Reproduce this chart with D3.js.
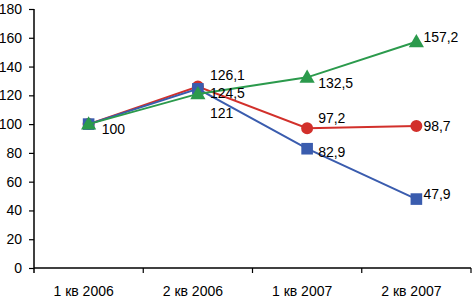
<!DOCTYPE html>
<html>
<head>
<meta charset="utf-8">
<script src="https://cdn.jsdelivr.net/npm/d3@7"></script>
<style>
  body { margin: 0; background: #fff; }
  svg { display: block; font-family: "Liberation Sans", Arial, sans-serif; }
</style>
</head>
<body>
<svg width="472" height="304"></svg>
<script>
const categories = ['1 кв 2006', '2 кв 2006', '1 кв 2007', '2 кв 2007'];
const redValues = [100, 126.1, 97.2, 98.7];
const blueValues = [100, 124.5, 82.9, 47.9];
const greenValues = [100, 121, 132.5, 157.2];
const yTicks = [0, 20, 40, 60, 80, 100, 120, 140, 160, 180];

// label offsets from the point [dx, dy]; null = no label
const redLabelPos = [null, [12, -11], [11, -10], [7, 0]];
const blueLabelPos = [null, [12, 4], [11, 3], [7, -5]];
const greenLabelPos = [[13, 5], [12, 19], [11, 6], [7, -5]];

const series = [
    { values: redValues, color: '#d2302b', shape: 'circle', labels: redLabelPos },
    { values: blueValues, color: '#3a5cae', shape: 'square', labels: blueLabelPos },
    { values: greenValues, color: '#2b9a4c', shape: 'triangle', labels: greenLabelPos }
];

const plotLeft = 34, plotRight = 471, plotTop = 9, plotBottom = 268;

const svg = d3.select('svg');

const xScale = d3.scaleBand()
    .domain(categories)
    .range([plotLeft, plotRight]);

const yScale = d3.scaleLinear()
    .domain([0, 180])
    .range([plotBottom, plotTop]);

// y axis
const yAxis = svg.append('g')
    .attr('transform', `translate(${plotLeft}, 0)`)
    .call(d3.axisLeft(yScale).tickValues(yTicks).tickSize(5).tickPadding(7));
yAxis.select('.domain').attr('d', `M0,${plotTop}V${plotBottom + 5}`).attr('stroke', '#000').attr('stroke-width', 1.5);
yAxis.selectAll('.tick line').attr('stroke', '#000').attr('stroke-width', 1.2);
yAxis.selectAll('.tick text').attr('font-size', 14).attr('fill', '#000')
    .attr('font-family', '"Liberation Sans", Arial, sans-serif');

// x axis
const xAxis = svg.append('g')
    .attr('transform', `translate(0, ${plotBottom})`);
xAxis.append('line')
    .attr('x1', plotLeft).attr('x2', plotRight)
    .attr('stroke', '#000').attr('stroke-width', 1.5);
xAxis.selectAll('line.tk')
    .data(categories)
    .enter().append('line')
    .attr('class', 'tk')
    .attr('x1', d => xScale(d) + xScale.bandwidth())
    .attr('x2', d => xScale(d) + xScale.bandwidth())
    .attr('y1', 0).attr('y2', 5)
    .attr('stroke', '#000').attr('stroke-width', 1.2);
xAxis.selectAll('text')
    .data(categories)
    .enter().append('text')
    .attr('x', d => xScale(d) + xScale.bandwidth() / 2 - 5)
    .attr('y', 28)
    .attr('text-anchor', 'middle')
    .attr('font-size', 14)
    .attr('fill', '#000')
    .text(d => d);

const cx = (i) => xScale(categories[i]) + xScale.bandwidth() / 2;

const line = d3.line()
    .x((d, i) => cx(i))
    .y(d => yScale(d));

const fmt = v => String(v).replace('.', ',');

series.forEach(s => {
    const g = svg.append('g');
    g.append('path')
        .datum(s.values)
        .attr('d', line)
        .attr('fill', 'none')
        .attr('stroke', s.color)
        .attr('stroke-width', 2);

    const sym = s.shape === 'circle' ? d3.symbolCircle
        : s.shape === 'square' ? d3.symbolSquare : d3.symbolTriangle;
    const size = s.shape === 'circle' ? 113 : s.shape === 'square' ? 135 : 100;

    g.selectAll('path.mk')
        .data(s.values)
        .enter().append('path')
        .attr('class', 'mk')
        .attr('d', d3.symbol().type(sym).size(size))
        .attr('transform', (d, i) => `translate(${cx(i)}, ${yScale(d) + (s.shape === 'triangle' ? 1 : 0)})`)
        .attr('fill', s.color);
});

// value labels on top
series.forEach(s => {
    svg.append('g').selectAll('text')
        .data(s.values.map((v, i) => ({ v, i, off: s.labels[i] })).filter(d => d.off))
        .enter().append('text')
        .attr('x', d => cx(d.i) + d.off[0])
        .attr('y', d => yScale(d.v) + d.off[1])
        .attr('dy', '0.35em')
        .attr('font-size', 14)
        .attr('fill', '#000')
        .text(d => fmt(d.v));
});
</script>
</body>
</html>
